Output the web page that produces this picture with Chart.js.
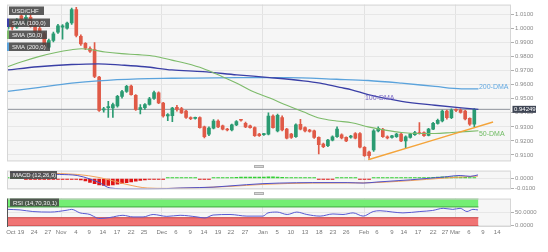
<!DOCTYPE html>
<html>
<head>
<meta charset="utf-8">
<script src="https://cdn.jsdelivr.net/npm/chart.js@4.4.0/dist/chart.umd.min.js"></script>
<style>
	body { margin: 0; background: #fff; width: 548px; height: 252px; overflow: hidden; position: relative; }
	canvas { position: absolute; left: 0; }
	.asa { position: absolute; left: 254px; width: 8px; height: 1px; background: #d8d8d8; border: 1px solid #b0b0b0; }
</style>
</head>
<body>
<canvas id="precio-grafica" width="548" height="166" style="top:0"></canvas>
<canvas id="macd-grafica" width="548" height="28" style="top:166px"></canvas>
<canvas id="rsi-grafica" width="548" height="58" style="top:194px"></canvas>
<div class="asa" style="top:165px"></div>
<div class="asa" style="top:192px"></div>
<script>
// velas diarias USD/CHF (índice 0 = primera vela visible)
const aperturas = [1.0000, 1.0030, 1.0010, 1.0090, 1.0068, 1.0080, 1.0020, 1.0000, 0.9962, 0.9868,
	0.9915, 0.9974, 1.0010, 1.0002, 1.0039, 1.0135, 0.9945, 0.9895, 0.9858, 0.9850,
	0.9655, 0.9420, 0.9437, 0.9435, 0.9450, 0.9517, 0.9552, 0.9590, 0.9525, 0.9424,
	0.9436, 0.9460, 0.9502, 0.9542, 0.9470, 0.9378, 0.9380, 0.9440, 0.9431, 0.9412,
	0.9367, 0.9360, 0.9367, 0.9300, 0.9249, 0.9291, 0.9342, 0.9307, 0.9284, 0.9278,
	0.9314, 0.9349, 0.9326, 0.9307, 0.9295, 0.9249, 0.9245, 0.9249, 0.9377, 0.9272,
	0.9367, 0.9284, 0.9249, 0.9230, 0.9318, 0.9295, 0.9277, 0.9272, 0.9225, 0.9178,
	0.9166, 0.9206, 0.9230, 0.9244, 0.9225, 0.9227, 0.9253, 0.9253, 0.9155, 0.9120,
	0.9136, 0.9272, 0.9283, 0.9230, 0.9225, 0.9230, 0.9249, 0.9201, 0.9225, 0.9245,
	0.9260, 0.9260, 0.9240, 0.9284, 0.9325, 0.9342, 0.9412, 0.9365, 0.9420, 0.9420,
	0.9412, 0.9360, 0.9320];
const maximos = [1.0050, 1.0060, 1.0070, 1.0100, 1.0095, 1.0100, 1.0040, 1.0060, 0.9975, 0.9925,
	0.9975, 1.0030, 1.0028, 1.0045, 1.0145, 1.0150, 0.9955, 0.9900, 0.9870, 0.9900,
	0.9660, 0.9440, 0.9482, 0.9470, 0.9525, 0.9560, 0.9595, 0.9598, 0.9530, 0.9458,
	0.9465, 0.9510, 0.9555, 0.9550, 0.9475, 0.9395, 0.9440, 0.9454, 0.9440, 0.9418,
	0.9372, 0.9370, 0.9372, 0.9305, 0.9300, 0.9352, 0.9350, 0.9312, 0.9290, 0.9320,
	0.9345, 0.9352, 0.9335, 0.9312, 0.9300, 0.9255, 0.9255, 0.9400, 0.9385, 0.9392,
	0.9378, 0.9290, 0.9255, 0.9322, 0.9353, 0.9300, 0.9282, 0.9278, 0.9230, 0.9185,
	0.9212, 0.9236, 0.9300, 0.9250, 0.9230, 0.9240, 0.9260, 0.9260, 0.9160, 0.9128,
	0.9280, 0.9300, 0.9290, 0.9236, 0.9240, 0.9255, 0.9255, 0.9236, 0.9255, 0.9268,
	0.9330, 0.9265, 0.9290, 0.9332, 0.9355, 0.9420, 0.9420, 0.9428, 0.9428, 0.9428,
	0.9418, 0.9365, 0.9430];
const minimos = [0.9980, 0.9990, 1.0000, 1.0060, 1.0040, 1.0010, 0.9965, 0.9935, 0.9860, 0.9860,
	0.9905, 0.9965, 0.9925, 0.9995, 1.0030, 0.9940, 0.9880, 0.9850, 0.9830, 0.9650,
	0.9410, 0.9405, 0.9368, 0.9368, 0.9440, 0.9505, 0.9545, 0.9525, 0.9418, 0.9393,
	0.9425, 0.9455, 0.9495, 0.9465, 0.9370, 0.9345, 0.9338, 0.9412, 0.9395, 0.9360,
	0.9352, 0.9355, 0.9290, 0.9222, 0.9238, 0.9285, 0.9295, 0.9278, 0.9272, 0.9272,
	0.9308, 0.9340, 0.9294, 0.9290, 0.9232, 0.9232, 0.9240, 0.9243, 0.9290, 0.9265,
	0.9272, 0.9215, 0.9218, 0.9225, 0.9278, 0.9265, 0.9262, 0.9218, 0.9108, 0.9152,
	0.9160, 0.9200, 0.9225, 0.9215, 0.9195, 0.9220, 0.9215, 0.9150, 0.9089, 0.9075,
	0.9125, 0.9265, 0.9225, 0.9215, 0.9220, 0.9225, 0.9195, 0.9150, 0.9220, 0.9240,
	0.9248, 0.9232, 0.9235, 0.9280, 0.9320, 0.9335, 0.9355, 0.9358, 0.9408, 0.9398,
	0.9350, 0.9310, 0.9300];
const cierres = [1.0030, 1.0010, 1.0060, 1.0068, 1.0080, 1.0020, 0.9975, 0.9950, 0.9868, 0.9915,
	0.9962, 1.0020, 1.0020, 1.0039, 1.0135, 0.9950, 0.9891, 0.9861, 0.9838, 0.9660,
	0.9418, 0.9428, 0.9445, 0.9458, 0.9517, 0.9552, 0.9588, 0.9530, 0.9425, 0.9438,
	0.9458, 0.9500, 0.9545, 0.9470, 0.9378, 0.9388, 0.9433, 0.9424, 0.9400, 0.9367,
	0.9358, 0.9362, 0.9295, 0.9230, 0.9291, 0.9342, 0.9300, 0.9284, 0.9278, 0.9314,
	0.9337, 0.9347, 0.9300, 0.9295, 0.9238, 0.9238, 0.9250, 0.9377, 0.9295, 0.9382,
	0.9278, 0.9220, 0.9225, 0.9314, 0.9284, 0.9272, 0.9268, 0.9225, 0.9173, 0.9159,
	0.9206, 0.9230, 0.9284, 0.9221, 0.9201, 0.9235, 0.9220, 0.9155, 0.9096, 0.9096,
	0.9272, 0.9290, 0.9230, 0.9221, 0.9236, 0.9249, 0.9201, 0.9230, 0.9249, 0.9260,
	0.9253, 0.9237, 0.9284, 0.9325, 0.9347, 0.9412, 0.9365, 0.9420, 0.9417, 0.9403,
	0.9356, 0.9320, 0.94249];

// medias móviles (índice de vela, valor)
const sma50Idx = [0, 3.1, 6.6, 10.3, 14, 16.2, 18.4, 21.3, 24.9, 28.5, 32.2, 35.9, 39.1, 42.7, 46.4,
	50.1, 53.6, 57.3, 61, 64.6, 68.3, 71.9, 75.2, 78.8, 82.5, 86.1, 89.7, 93.4, 97.1, 102.9];
const sma50Val = [0.9728, 0.9763, 0.9798, 0.9828, 0.9849, 0.9856, 0.9849, 0.9833, 0.9821, 0.9814, 0.9803, 0.9775, 0.9751, 0.9716, 0.9665,
	0.9611, 0.9552, 0.9505, 0.9454, 0.9407, 0.9361, 0.9342, 0.9330, 0.9300, 0.9277, 0.9260, 0.9253, 0.9253, 0.9260, 0.9272];
const sma100Idx = [0, 6.6, 14, 19.8, 24.9, 30, 35.9, 42.7, 50.1, 57.3, 64.6, 68.3, 72.6, 75.2, 78.8, 86.1, 93.4, 99.2, 102.9];
const sma100Val = [0.9705, 0.9728, 0.9744, 0.9749, 0.9740, 0.9728, 0.9705, 0.9693, 0.9670, 0.9651, 0.9628, 0.9611, 0.9581, 0.9564, 0.9529, 0.9482, 0.9454, 0.9435, 0.9424];
const sma200Idx = [0, 6.6, 14, 19.8, 28.5, 35.9, 50.1, 61, 71.9, 78.8, 86.1, 93.4, 99.2, 102.9];
const sma200Val = [0.9552, 0.9580, 0.9611, 0.9628, 0.9642, 0.9646, 0.9651, 0.9651, 0.9639, 0.9630, 0.9611, 0.9588, 0.9571, 0.9571];
const tendenciaIdx = [78.8, 106.1];
const tendenciaVal = [0.9066, 0.9335];

// MACD (12,26,9)
const macdIdx = [0.5, 5.5, 11.4, 15.2, 18, 20.2, 22.4, 27.4, 30.5, 34.8, 37.7, 42, 44.9, 48.6, 55.8, 59.5, 66.7, 74.2, 77.7, 80.7, 88, 95.2, 98.9, 101.1, 102.8];
const macdVal = [0.0066, 0.0052, 0.0043, 0.0032, -0.0005, -0.0048, -0.0100, -0.0110, -0.0110, -0.0106, -0.0100, -0.0095, -0.0091, -0.0078, -0.0054, -0.0048, -0.0043, -0.0043, -0.0048, -0.0037, -0.0014, 0.0015, 0.0032, 0.0023, 0.0038];
const senalIdx = [0.5, 15.2, 20.2, 26.1, 30.5, 34.8, 42, 48.6, 55.8, 66.7, 77.7, 88, 95.2, 102.8];
const senalVal = [0.0062, 0.0043, 0.0009, -0.0063, -0.0100, -0.0104, -0.0097, -0.0083, -0.0062, -0.0048, -0.0046, -0.0022, 0.0004, 0.0026];
const histograma = [0.0004, 0.0003, 0.0002, 0.0001, -0.0001, -0.0002, -0.0002, -0.0003, -0.0004, -0.0004,
	-0.0003, -0.0003, -0.0003, -0.0002, -0.0002, -0.0008, -0.0015, -0.0025, -0.0040, -0.0055,
	-0.0068, -0.0072, -0.0072, -0.0068, -0.0060, -0.0052, -0.0044, -0.0035, -0.0027, -0.0020,
	-0.0014, -0.0009, -0.0006, -0.0004, -0.0002, 0.0002, 0.0004, 0.0005, 0.0005, 0.0004,
	0.0003, 0.0001, -0.0002, -0.0003, -0.0002, 0.0002, 0.0005, 0.0007, 0.0009, 0.0011,
	0.0013, 0.0015, 0.0015, 0.0014, 0.0014, 0.0015, 0.0016, 0.0018, 0.0017, 0.0015,
	0.0012, 0.0009, 0.0007, 0.0006, 0.0004, 0.0003, 0.0002, 0.0001, -0.0002, -0.0003,
	-0.0002, -0.0001, 0.0002, 0.0003, 0.0003, 0.0002, 0.0001, -0.0002, -0.0004, -0.0004,
	0.0002, 0.0004, 0.0005, 0.0005, 0.0006, 0.0006, 0.0006, 0.0007, 0.0008, 0.0009,
	0.0010, 0.0010, 0.0011, 0.0013, 0.0015, 0.0018, 0.0019, 0.0019, 0.0018, 0.0016,
	0.0012, 0.0009, 0.0011];

// RSI (14,70,30,1)
const rsiIdx = [0, 2.7, 5.5, 9.3, 13, 14, 15.8, 18, 19.5, 20.2, 22.4, 25.2, 27.4, 29.6, 31.8, 34.8, 37.7, 41.4, 43.1, 44.9,
	48.6, 52.3, 55.8, 56.9, 58.9, 61.1, 63.2, 65.4, 68.3, 71.1, 73.3, 75.5, 77.7, 79.9, 81.4, 84.2, 86.4, 90.1, 92.9, 95.2,
	97.3, 98.9, 100.4, 101.7, 102.8];
const rsiVal = [61, 59, 53, 51, 58, 61, 48, 42, 29, 27, 31, 39, 33, 33, 42, 35, 39, 33, 29, 40,
	42, 36, 36, 48, 51, 42, 51, 42, 36, 44, 42, 48, 36, 53, 56, 51, 48, 53, 57, 65,
	61, 65, 53, 61, 59];
const bandaSobrecompra = [70, 100];
const bandaSobreventa = [0, 30];
const finBandas = 102.9;

// ejes
const marcasPrecio = [0.91, 0.92, 0.93, 0.94, 0.95, 0.96, 0.97, 0.98, 0.99, 1.00, 1.01];
const marcasMacd = [0, -0.01];
const marcasRsi = [0, 50];
const xTickPos = [0.7, 2.9, 5.8, 8.8, 11.7, 14.9, 17.8, 20.8, 23.9, 27.0, 29.8, 33.7, 36.8, 39.9, 42.9, 46.0, 48.8, 51.9,
	55.8, 58.9, 61.9, 65.0, 68.1, 71.1, 74.0, 77.9, 80.7, 84.0, 86.6, 89.7, 93.0, 95.6, 97.8, 100.8, 103.9, 107.0];
const xTickText = ["Oct", "19", "24", "27", "Nov", "4", "9", "14", "17", "22", "25", "Dec", "6", "9", "14", "19", "22", "27",
	"Jan", "5", "10", "13", "18", "23", "26", "Feb", "6", "9", "14", "17", "22", "27", "Mar", "6", "9", "14"];
const meses = ["Nov", "Dec", "Jan", "Feb", "Mar"];

(function () {
	const fuente = '"Liberation Sans", Arial, sans-serif';
	Chart.defaults.font.family = fuente;
	const xMin = -0.14, xMax = 110.02;
	const verde = "#2b9b72", rojo = "#e05a47";
	const dias = cierres.map((c, i) => i);
	const puntos = (idx, val) => idx.map((x, i) => ({ x: x, y: val[i] }));
	const ultimo = cierres[cierres.length - 1];

	function ejeX(etiquetas) {
		return {
			type: "linear", min: xMin, max: xMax, offset: false,
			afterBuildTicks: (eje) => { eje.ticks = xTickPos.map((v) => ({ value: v })); },
			ticks: {
				display: etiquetas, autoSkip: false, maxRotation: 0, minRotation: 0, padding: 2,
				color: "#777", font: { size: 6 },
				callback: (v, i) => xTickText[i],
			},
			grid: {
				offset: false, drawTicks: false,
				color: (c) => meses.includes(xTickText[c.index]) ? "#e2e2e2" : "rgba(0,0,0,0)",
			},
			border: { display: false },
			afterFit: (e) => { e.height = etiquetas ? 25 : 0; },
		};
	}

	function ejeY(min, max, marcas) {
		return {
			position: "right", min: min, max: max,
			afterBuildTicks: (eje) => { eje.ticks = marcas.map((v) => ({ value: v })); },
			ticks: { color: "#8a8a8a", font: { size: 6 }, padding: 1, callback: (v) => Number(v).toFixed(4) },
			grid: { color: "#e7e7e7", tickLength: 3, tickColor: "#b0b0b0" },
			border: { display: false },
			afterFit: (e) => { e.width = 37; },
		};
	}

	function caja(ctx, x, y, w, h, texto, franja) {
		ctx.fillStyle = "rgba(70,70,70,0.88)";
		ctx.fillRect(x, y, w, h);
		if (franja) {
			ctx.fillStyle = franja;
			ctx.fillRect(x - 2, y, 2, h);
		}
		ctx.fillStyle = "#f0f0f0";
		ctx.font = "6px " + fuente;
		ctx.textBaseline = "middle";
		ctx.textAlign = "left";
		ctx.fillText(texto, x + 3, y + h / 2 + 0.5);
	}

	const fondoPanel = {
		id: "fondoPanel",
		beforeDraw(chart) {
			const { ctx, chartArea: a } = chart;
			ctx.save();
			ctx.fillStyle = "#f6f6f6";
			ctx.fillRect(a.left, a.top, a.width, a.height);
			ctx.restore();
		},
		afterDraw(chart) {
			const { ctx, chartArea: a } = chart;
			ctx.save();
			ctx.strokeStyle = "#d6d6d6";
			ctx.lineWidth = 1;
			ctx.strokeRect(a.left + 0.5, a.top + 0.5, a.width - 1, a.height - 1);
			ctx.restore();
		},
	};

	const rotulosPrecio = {
		id: "rotulosPrecio",
		afterDraw(chart) {
			const { ctx, scales: { x, y } } = chart;
			ctx.save();
			caja(ctx, 9, 6.5, 35, 8.5, "USD/CHF");
			caja(ctx, 9, 18.5, 41, 8.5, "SMA (100,0)", "#3a3fa6");
			caja(ctx, 9, 30.5, 38, 8.5, "SMA (50,0)", "#7dbb6a");
			caja(ctx, 9, 42.5, 41, 8.5, "SMA (200,0)", "#5ba3dc");
			ctx.font = "7px " + fuente;
			ctx.textBaseline = "middle";
			ctx.textAlign = "left";
			ctx.fillStyle = "#62a9e2";
			ctx.fillText("200-DMA", x.getPixelForValue(103), y.getPixelForValue(0.9583));
			ctx.fillStyle = "#7a68c6";
			ctx.fillText("100-DMA", x.getPixelForValue(78.1), y.getPixelForValue(0.9505));
			ctx.fillStyle = "#6fbb62";
			ctx.fillText("50-DMA", x.getPixelForValue(103), y.getPixelForValue(0.9248));
			// recuadro del último precio
			const py = y.getPixelForValue(ultimo);
			ctx.fillStyle = "#3e4554";
			ctx.fillRect(512.5, py - 3.5, 23.5, 7);
			ctx.fillStyle = "#ffffff";
			ctx.font = "6px " + fuente;
			ctx.fillText(ultimo.toFixed(5), 514, py + 0.5);
			ctx.restore();
		},
	};

	const rotuloMacd = {
		id: "rotuloMacd",
		afterDraw(chart) {
			chart.ctx.save();
			caja(chart.ctx, 10, 5, 47, 8, "MACD (12,26,9)");
			chart.ctx.restore();
		},
	};

	const rotuloRsi = {
		id: "rotuloRsi",
		afterDraw(chart) {
			const { ctx, chartArea: a } = chart;
			ctx.save();
			ctx.strokeStyle = "#555";
			ctx.beginPath();
			ctx.moveTo(a.left + 0.5, a.top);
			ctx.lineTo(a.left + 0.5, a.bottom);
			ctx.stroke();
			caja(ctx, 10, 4.5, 49, 8, "RSI (14,70,30,1)");
			ctx.restore();
		},
	};

	const comunes = {
		responsive: false,
		animation: false,
		devicePixelRatio: 1,
		events: [],
		plugins: { legend: { display: false }, tooltip: { enabled: false } },
	};

	const linea = (datos, color, ancho, extra) => Object.assign({
		type: "line", data: datos, borderColor: color, borderWidth: ancho,
		pointRadius: 0, fill: false, tension: 0.4, cubicInterpolationMode: "monotone",
	}, extra || {});

	new Chart(document.getElementById("precio-grafica"), {
		type: "bar",
		data: {
			datasets: [
				linea(puntos(tendenciaIdx, tendenciaVal), "#f4a43a", 1.4, { tension: 0 }),
				linea(puntos(sma50Idx, sma50Val), "#7dbb6a", 1.1),
				linea(puntos(sma100Idx, sma100Val), "#3a3fa6", 1.3),
				linea(puntos(sma200Idx, sma200Val), "#5ba3dc", 1.3),
				{
					data: dias.map((i) => ({ x: i, y: [aperturas[i], cierres[i]] })),
					backgroundColor: dias.map((i) => cierres[i] >= aperturas[i] ? verde : rojo),
					barThickness: 3, minBarLength: 1, grouped: false,
				},
				{
					data: dias.map((i) => ({ x: i, y: [minimos[i], maximos[i]] })),
					backgroundColor: dias.map((i) => cierres[i] >= aperturas[i] ? verde : rojo),
					barThickness: 1, grouped: false,
				},
				linea([{ x: xMin, y: ultimo }, { x: xMax, y: ultimo }], "#8d929b", 1, { tension: 0 }),
			],
		},
		options: Object.assign({}, comunes, {
			layout: { padding: { left: 7, top: 4, bottom: 3, right: 0 } },
			scales: { x: ejeX(false), y: ejeY(0.90544, 1.01702, marcasPrecio) },
		}),
		plugins: [fondoPanel, rotulosPrecio],
	});

	new Chart(document.getElementById("macd-grafica"), {
		type: "bar",
		data: {
			datasets: [
				linea(puntos(macdIdx, macdVal), "#5050c8", 1, { tension: 0.3 }),
				linea(puntos(senalIdx, senalVal), "#f2a15a", 1, { tension: 0.3 }),
				{
					data: dias.map((i) => ({ x: i, y: histograma[i] })),
					backgroundColor: histograma.map((v) => v >= 0 ? "#35cf35" : "#e01414"),
					barThickness: 3, minBarLength: 1,
				},
			],
		},
		options: Object.assign({}, comunes, {
			layout: { padding: { left: 7, top: 2, bottom: 3, right: 0 } },
			scales: { x: ejeX(false), y: ejeY(-0.01147, 0.00836, marcasMacd) },
		}),
		plugins: [fondoPanel, rotuloMacd],
	});

	new Chart(document.getElementById("rsi-grafica"), {
		type: "line",
		data: {
			datasets: [
				linea(puntos(rsiIdx, rsiVal), "#5a5ad2", 1, { tension: 0 }),
				linea([{ x: xMin, y: bandaSobrecompra[1] }, { x: finBandas, y: bandaSobrecompra[1] }], "#3fa83f", 1, { tension: 0 }),
				linea([{ x: xMin, y: bandaSobrecompra[0] }, { x: finBandas, y: bandaSobrecompra[0] }], "#3fa83f", 1, { tension: 0, fill: "-1", backgroundColor: "#74ee74" }),
				linea([{ x: xMin, y: bandaSobreventa[1] }, { x: finBandas, y: bandaSobreventa[1] }], "#c94444", 1, { tension: 0 }),
				linea([{ x: xMin, y: bandaSobreventa[0] }, { x: finBandas, y: bandaSobreventa[0] }], "#c94444", 1, { tension: 0, fill: "-1", backgroundColor: "#f07474" }),
			],
		},
		options: Object.assign({}, comunes, {
			layout: { padding: { left: 7, top: 2, bottom: 0, right: 0 } },
			scales: { x: ejeX(true), y: ejeY(-4.4, 101, marcasRsi) },
		}),
		plugins: [fondoPanel, rotuloRsi],
	});
})();
</script>
</body>
</html>
